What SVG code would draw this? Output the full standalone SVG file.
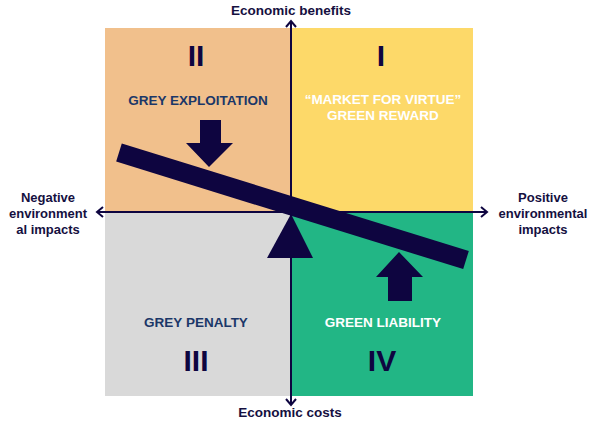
<svg xmlns="http://www.w3.org/2000/svg" width="600" height="422" viewBox="0 0 600 422">
<style>
.ax{font-family:"Liberation Sans",Arial,sans-serif;font-weight:bold;font-size:13.5px;fill:#15103f;text-anchor:middle}
.sd{font-family:"Liberation Sans",Arial,sans-serif;font-weight:bold;font-size:13px;fill:#15103f;text-anchor:middle}
.lbl{font-family:"Liberation Sans",Arial,sans-serif;font-weight:bold;font-size:13.5px;text-anchor:middle}
.num{font-family:"Liberation Sans",Arial,sans-serif;font-weight:bold;font-size:30px;fill:#0e0540;text-anchor:middle}
.axis{stroke:#0e0540;stroke-width:2;fill:none}
.dark{fill:#0e0540}
</style>
<rect width="600" height="422" fill="#ffffff"/>
<g id="q2"><rect x="105" y="28" width="186" height="184" fill="#f1c08c"/>
<text class="num" x="196" y="66">II</text>
<text class="lbl" x="198" y="105" fill="#1b3768">GREY EXPLOITATION</text></g>
<g id="q1"><rect x="291" y="28" width="182" height="184" fill="#fdd969"/>
<text class="num" x="381" y="66">I</text>
<text class="lbl" x="383" y="104" fill="#ffffff">“MARKET FOR VIRTUE”</text>
<text class="lbl" x="383" y="120" fill="#ffffff">GREEN REWARD</text></g>
<g id="q3"><rect x="105" y="212" width="186" height="184" fill="#d9d9d9"/>
<text class="lbl" x="196" y="327" fill="#1b3768">GREY PENALTY</text>
<text class="num" x="196" y="371">III</text></g>
<g id="q4"><rect x="291" y="212" width="182" height="184" fill="#22b685"/>
<text class="lbl" x="383" y="327" fill="#ffffff">GREEN LIABILITY</text>
<text class="num" x="382" y="371">IV</text></g>
<g id="connectors">
<line class="axis" x1="291" y1="22" x2="291" y2="404"/>
<polyline class="axis" points="286,27 291,21 296,27"/>
<polyline class="axis" points="286,399 291,405 296,399"/>
<line class="axis" x1="97" y1="212" x2="487" y2="212"/>
<polyline class="axis" points="103,207 97,212 103,217"/>
<polyline class="axis" points="481,207 487,212 481,217"/>
</g>
<g id="lever">
<line x1="119" y1="152.5" x2="466" y2="260" stroke="#0e0540" stroke-width="19" stroke-linecap="butt" stroke-linejoin="round"/>
<polygon class="dark" points="291,214 313,258 267,258"/>
<polygon class="dark" points="200,120 221,120 221,143 233,143 209,167 186,143 200,143"/>
<polygon class="dark" points="399,252 423,277 412,277 412,301 388,301 388,277 376,277"/>
</g>
<g id="axis-labels">
<text class="ax" x="291" y="15">Economic benefits</text>
<text class="ax" x="290" y="417">Economic costs</text>
<text class="sd" x="48" y="202">Negative</text>
<text class="sd" x="48" y="218">environment</text>
<text class="sd" x="48" y="234">al impacts</text>
<text class="sd" x="543" y="202">Positive</text>
<text class="sd" x="543" y="218">environmental</text>
<text class="sd" x="543" y="234">impacts</text>
</g>
</svg>
